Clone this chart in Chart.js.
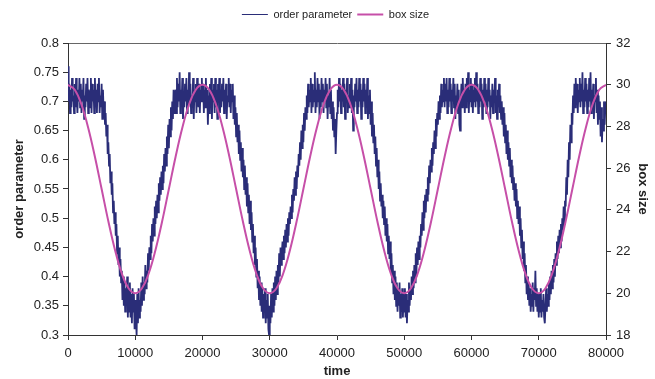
<!DOCTYPE html>
<html>
<head>
<meta charset="utf-8">
<script src="https://cdn.jsdelivr.net/npm/chart.js@4.4.1/dist/chart.umd.min.js"></script>
<style>
  body { margin: 0; background: #fff; }
  #wrap { width: 655px; height: 379px; }
</style>
</head>
<body>
<div id="wrap"><canvas id="chart" width="655" height="379"></canvas></div>
<script>
// order parameter, one reading every 100 time units (0 .. 80000), 40 readings per row
const orderStep = 100;
const orderParam = [
  0.76,0.70,0.73,0.68,0.72,0.69,0.74,0.70,0.71,0.68,0.73,0.69,0.74,0.71,0.68,0.72,0.70,0.74,0.69,0.73,
  0.68,0.72,0.70,0.74,0.67,0.71,0.69,0.73,0.70,0.74,0.68,0.72,0.71,0.69,0.74,0.68,0.73,0.70,0.72,0.68,
  0.74,0.69,0.72,0.68,0.73,0.70,0.74,0.68,0.71,0.69,0.73,0.67,0.72,0.68,0.70,0.66,0.68,0.64,0.66,0.61,
  0.63,0.59,0.61,0.56,0.58,0.54,0.56,0.51,0.53,0.49,0.51,0.47,0.49,0.44,0.47,0.42,0.45,0.40,0.43,0.39,
  0.41,0.36,0.40,0.35,0.39,0.34,0.38,0.35,0.40,0.33,0.38,0.34,0.39,0.33,0.37,0.32,0.38,0.34,0.37,0.31,
  0.36,0.33,0.30,0.37,0.32,0.38,0.33,0.36,0.34,0.39,0.35,0.40,0.36,0.39,0.37,0.42,0.38,0.41,0.39,0.44,
  0.41,0.45,0.43,0.47,0.44,0.49,0.46,0.50,0.47,0.52,0.49,0.53,0.50,0.54,0.51,0.56,0.53,0.57,0.54,0.58,
  0.55,0.59,0.56,0.61,0.58,0.62,0.59,0.64,0.61,0.66,0.62,0.67,0.64,0.69,0.65,0.70,0.67,0.72,0.68,0.71,
  0.72,0.68,0.74,0.69,0.73,0.70,0.75,0.68,0.72,0.70,0.74,0.67,0.71,0.69,0.73,0.70,0.74,0.68,0.72,0.69,
  0.75,0.70,0.73,0.68,0.71,0.69,0.74,0.67,0.72,0.70,0.73,0.68,0.74,0.71,0.69,0.73,0.68,0.72,0.70,0.74,
  0.70,0.73,0.68,0.72,0.69,0.74,0.70,0.72,0.66,0.71,0.68,0.73,0.69,0.74,0.67,0.72,0.70,0.73,0.68,0.74,
  0.69,0.72,0.67,0.73,0.70,0.74,0.68,0.72,0.69,0.73,0.70,0.74,0.68,0.72,0.69,0.73,0.67,0.71,0.70,0.74,
  0.69,0.73,0.68,0.72,0.70,0.73,0.67,0.71,0.66,0.69,0.64,0.68,0.63,0.66,0.61,0.65,0.60,0.63,0.58,0.62,
  0.57,0.60,0.55,0.59,0.54,0.57,0.52,0.56,0.51,0.54,0.49,0.53,0.48,0.51,0.46,0.49,0.44,0.47,0.42,0.45,
  0.40,0.43,0.38,0.41,0.36,0.40,0.35,0.39,0.34,0.38,0.33,0.37,0.34,0.38,0.32,0.36,0.33,0.37,0.31,0.30,
  0.35,0.32,0.37,0.33,0.38,0.34,0.39,0.35,0.40,0.36,0.41,0.37,0.42,0.39,0.44,0.40,0.45,0.42,0.44,0.46,
  0.43,0.47,0.44,0.48,0.45,0.49,0.46,0.50,0.47,0.51,0.49,0.52,0.50,0.54,0.51,0.55,0.53,0.57,0.54,0.58,
  0.55,0.59,0.57,0.61,0.59,0.63,0.60,0.65,0.62,0.66,0.63,0.68,0.65,0.69,0.67,0.71,0.68,0.73,0.69,0.72,
  0.70,0.74,0.68,0.73,0.69,0.72,0.70,0.75,0.68,0.72,0.69,0.74,0.70,0.73,0.67,0.72,0.69,0.74,0.70,0.73,
  0.68,0.72,0.70,0.74,0.69,0.73,0.67,0.71,0.69,0.74,0.68,0.72,0.67,0.70,0.65,0.69,0.64,0.67,0.61,0.65,
  0.68,0.72,0.69,0.74,0.70,0.73,0.68,0.72,0.70,0.74,0.69,0.73,0.67,0.72,0.70,0.74,0.68,0.71,0.69,0.73,
  0.70,0.74,0.68,0.72,0.65,0.71,0.69,0.73,0.70,0.74,0.68,0.72,0.69,0.74,0.70,0.73,0.67,0.72,0.69,0.74,
  0.70,0.73,0.68,0.72,0.69,0.74,0.67,0.71,0.68,0.72,0.66,0.70,0.64,0.68,0.63,0.66,0.61,0.64,0.59,0.62,
  0.57,0.60,0.55,0.58,0.53,0.56,0.52,0.54,0.50,0.53,0.49,0.52,0.47,0.50,0.46,0.49,0.44,0.47,0.43,0.46,
  0.41,0.44,0.39,0.42,0.37,0.41,0.36,0.40,0.35,0.39,0.34,0.38,0.35,0.39,0.33,0.37,0.34,0.38,0.33,0.37,
  0.34,0.38,0.33,0.37,0.32,0.36,0.34,0.39,0.35,0.38,0.36,0.40,0.37,0.41,0.38,0.42,0.39,0.44,0.40,0.45,
  0.42,0.46,0.43,0.47,0.45,0.49,0.47,0.51,0.48,0.53,0.50,0.54,0.51,0.55,0.53,0.57,0.54,0.59,0.56,0.60,
  0.58,0.62,0.59,0.63,0.61,0.65,0.62,0.67,0.64,0.68,0.66,0.70,0.67,0.71,0.68,0.73,0.69,0.72,0.70,0.74,
  0.69,0.73,0.70,0.74,0.68,0.72,0.69,0.74,0.70,0.73,0.68,0.72,0.70,0.74,0.69,0.73,0.67,0.71,0.69,0.73,
  0.68,0.72,0.66,0.65,0.70,0.73,0.69,0.74,0.70,0.72,0.68,0.73,0.69,0.74,0.70,0.75,0.68,0.72,0.70,0.74,
  0.69,0.73,0.68,0.72,0.70,0.74,0.69,0.75,0.70,0.73,0.68,0.72,0.69,0.74,0.70,0.73,0.67,0.72,0.69,0.74,
  0.70,0.73,0.68,0.72,0.69,0.74,0.70,0.72,0.67,0.71,0.69,0.73,0.68,0.72,0.70,0.74,0.68,0.71,0.67,0.72,
  0.69,0.73,0.68,0.71,0.67,0.70,0.66,0.69,0.64,0.68,0.63,0.66,0.61,0.65,0.60,0.63,0.59,0.62,0.57,0.60,
  0.56,0.59,0.55,0.57,0.53,0.56,0.52,0.55,0.50,0.53,0.49,0.52,0.47,0.50,0.45,0.48,0.43,0.46,0.41,0.44,
  0.39,0.42,0.37,0.40,0.36,0.39,0.35,0.38,0.34,0.37,0.35,0.39,0.34,0.38,0.36,0.41,0.35,0.38,0.34,0.37,
  0.33,0.37,0.34,0.38,0.33,0.36,0.34,0.37,0.33,0.32,0.35,0.38,0.34,0.37,0.35,0.39,0.36,0.40,0.37,0.41,
  0.38,0.42,0.39,0.43,0.40,0.44,0.42,0.46,0.43,0.47,0.44,0.48,0.45,0.49,0.46,0.50,0.48,0.52,0.49,0.53,
  0.52,0.57,0.54,0.60,0.57,0.63,0.60,0.66,0.63,0.68,0.66,0.71,0.68,0.73,0.69,0.74,0.70,0.73,0.68,0.72,
  0.70,0.74,0.69,0.73,0.70,0.75,0.68,0.72,0.69,0.74,0.70,0.73,0.68,0.72,0.69,0.74,0.70,0.75,0.68,0.72,
  0.69,0.73,0.67,0.71,0.70,0.74,0.68,0.72,0.66,0.71,0.67,0.70,0.64,0.69,0.63,0.67,0.65,0.70,0.66,0.69,
  0.70
];

// box size, one reading every 1000 time units
const boxStep = 1000;
const boxSize = [
  30.00,29.76,29.05,27.94,26.55,25.00,23.45,22.06,20.95,20.24,
  20.00,20.24,20.95,22.06,23.45,25.00,26.55,27.94,29.05,29.76,
  30.00,29.76,29.05,27.94,26.55,25.00,23.45,22.06,20.95,20.24,
  20.00,20.24,20.95,22.06,23.45,25.00,26.55,27.94,29.05,29.76,
  30.00,29.76,29.05,27.94,26.55,25.00,23.45,22.06,20.95,20.24,
  20.00,20.24,20.95,22.06,23.45,25.00,26.55,27.94,29.05,29.76,
  30.00,29.76,29.05,27.94,26.55,25.00,23.45,22.06,20.95,20.24,
  20.00,20.24,20.95,22.06,23.45,25.00,26.55,27.94,29.05,29.76,
  30.00
];

const timeTicks = [0, 10000, 20000, 30000, 40000, 50000, 60000, 70000, 80000];
const leftTicks = [0.3, 0.35, 0.4, 0.45, 0.5, 0.55, 0.6, 0.65, 0.7, 0.75, 0.8];
const rightTicks = [18, 20, 22, 24, 26, 28, 30, 32];

const navy = '#2a2d78';
const magenta = '#c64fa8';
const axisColor = '#333333';
const tickFont = { family: 'Liberation Sans, Arial, sans-serif', size: 13 };
const titleFont = { family: 'Liberation Sans, Arial, sans-serif', size: 13, weight: 'bold' };

// nudge the legend a little to the right, like the original
const legendShift = {
  id: 'legendShift',
  afterLayout(chart) {
    chart.legend.left += 8;
    chart.legend.right += 8;
  }
};

document.addEventListener('DOMContentLoaded', () => {
  const ctx = document.getElementById('chart').getContext('2d');

  const data = {
    datasets: [{
      label: 'order parameter',
      data: orderParam.map((v, i) => ({ x: i * orderStep, y: v })),
      borderColor: navy,
      backgroundColor: navy,
      borderWidth: 1.8,
      pointRadius: 0,
      tension: 0,
      yAxisID: 'y',
      order: 1
    },
    {
      label: 'box size',
      data: boxSize.map((v, i) => ({ x: i * boxStep, y: v })),
      borderColor: magenta,
      backgroundColor: magenta,
      borderWidth: 2,
      pointRadius: 0,
      tension: 0.4,
      yAxisID: 'y1',
      order: 0
    }]
  };

  new Chart(ctx, {
    type: 'line',
    data: data,
    plugins: [legendShift],
    options: {
      responsive: false,
      animation: false,
      layout: { padding: { top: 4 } },
      plugins: {
        tooltip: { enabled: false },
        legend: {
          position: 'top',
          labels: {
            usePointStyle: true,
            pointStyle: 'line',
            pointStyleWidth: 26,
            padding: 5,
            color: '#222',
            font: { family: 'Liberation Sans, Arial, sans-serif', size: 11 },
            sort: (a, b) => a.datasetIndex - b.datasetIndex,
            // thin legend stroke for the noisy series
            generateLabels: (chart) => Chart.defaults.plugins.legend.labels.generateLabels(chart)
              .map(l => ({ ...l, lineWidth: l.datasetIndex === 0 ? 1 : 2 }))
          }
        }
      },
      scales: {
        x: {
          type: 'linear',
          min: 0,
          max: 80000,
          afterBuildTicks: (s) => { s.ticks = timeTicks.map(v => ({ value: v })); },
          afterFit: (s) => { s.height = 44; },
          ticks: { font: tickFont, color: '#222', padding: 6, maxRotation: 0, callback: v => String(v) },
          grid: { display: true, drawOnChartArea: false, tickLength: 5, color: axisColor },
          border: { color: axisColor, width: 1 },
          title: { display: true, text: 'time', font: titleFont, color: '#222', padding: { top: 0, bottom: 0 } }
        },
        xTop: {
          type: 'linear',
          position: 'top',
          min: 0,
          max: 80000,
          afterFit: (s) => { s.height = 13; },
          ticks: { display: false },
          grid: { display: false },
          border: { color: '#666', width: 1 }
        },
        y: {
          type: 'linear',
          position: 'left',
          min: 0.3,
          max: 0.8,
          afterBuildTicks: (s) => { s.ticks = leftTicks.map(v => ({ value: v })); },
          afterFit: (s) => { s.width = 68; },
          ticks: { font: tickFont, color: '#222', padding: 4, callback: v => String(parseFloat(v.toFixed(2))) },
          grid: { display: true, drawOnChartArea: false, tickLength: 5, color: axisColor },
          border: { color: axisColor, width: 1 },
          title: { display: true, text: 'order parameter', font: titleFont, color: '#222', padding: { top: 12, bottom: 0 } }
        },
        y1: {
          type: 'linear',
          position: 'right',
          min: 18,
          max: 32,
          afterBuildTicks: (s) => { s.ticks = rightTicks.map(v => ({ value: v })); },
          afterFit: (s) => { s.width = 49; },
          ticks: { font: tickFont, color: '#222', padding: 5 },
          grid: { display: true, drawOnChartArea: false, tickLength: 5, color: axisColor },
          border: { color: axisColor, width: 1 },
          title: { display: true, text: 'box size', font: titleFont, color: '#222', padding: { top: 5, bottom: 0 } }
        }
      }
    }
  });
});
</script>
</body>
</html>
